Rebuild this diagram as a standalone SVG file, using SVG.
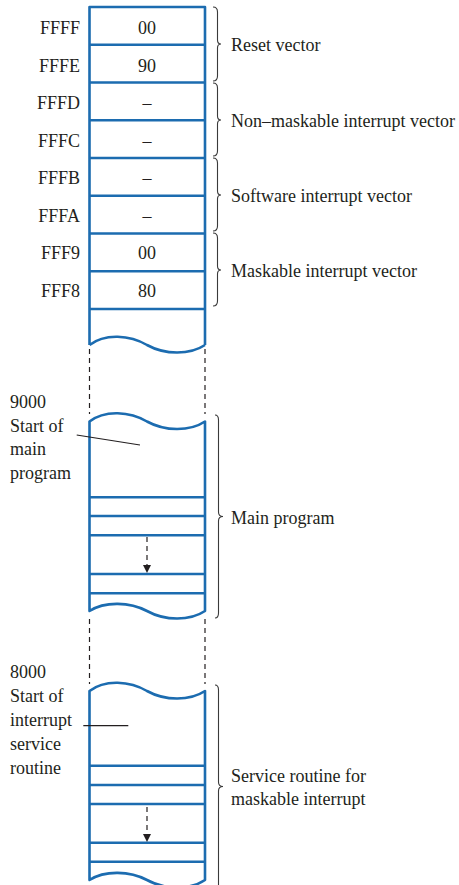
<svg xmlns="http://www.w3.org/2000/svg" width="459" height="885" viewBox="0 0 459 885">
<defs>
<style>
text{font-family:"Liberation Serif","Times New Roman",serif;font-size:18px;fill:#231f20}
.addr{text-anchor:end}
.val{text-anchor:middle}
.mem{fill:none;stroke:#1c6cb0;stroke-width:2.6;stroke-linejoin:round}
.brace{fill:none;stroke:#3a3a3a;stroke-width:1.1}
.dash{fill:none;stroke:#231f20;stroke-width:1.2;stroke-dasharray:5 4}
.lead{fill:none;stroke:#231f20;stroke-width:1.2}
</style>
<marker id="ah" viewBox="0 0 10 10" refX="10" refY="5" markerWidth="8" markerHeight="8" markerUnits="userSpaceOnUse" orient="auto">
<path d="M0,0 L10,5 L0,10 Z" fill="#231f20"/>
</marker>
</defs>
<rect width="459" height="885" fill="#fff"/>

<g id="vector-table">
<path class="mem" d="M89.5,345 L89.5,7 L205,7 L205,345 M89.5,44.75 H205 M89.5,82.5 H205 M89.5,120.25 H205 M89.5,158 H205 M89.5,195.75 H205 M89.5,233.5 H205 M89.5,271.25 H205 M89.5,309 H205 M89.5,345 C105,333 130,335 147,345 C165,355 190,355 205,345"/>
<text class="addr" x="80" y="34">FFFF</text>
<text class="addr" x="80" y="72">FFFE</text>
<text class="addr" x="80" y="109">FFFD</text>
<text class="addr" x="80" y="147">FFFC</text>
<text class="addr" x="80" y="184">FFFB</text>
<text class="addr" x="80" y="222">FFFA</text>
<text class="addr" x="80" y="259">FFF9</text>
<text class="addr" x="80" y="297">FFF8</text>
<text class="val" x="147" y="34">00</text>
<text class="val" x="147" y="72">90</text>
<text class="val" x="147" y="109">–</text>
<text class="val" x="147" y="147">–</text>
<text class="val" x="147" y="184">–</text>
<text class="val" x="147" y="222">–</text>
<text class="val" x="147" y="259">00</text>
<text class="val" x="147" y="297">80</text>
</g>

<g id="reset-vector">
<path class="brace" d="M213,7 Q217.5,7 217.5,12 L217.5,40 Q217.5,44 221,44 Q217.5,44 217.5,48 L217.5,76 Q217.5,81 213,81"/>
<text x="231" y="51">Reset vector</text>
</g>
<g id="nmi-vector">
<path class="brace" d="M213,83 Q217.5,83 217.5,88 L217.5,116 Q217.5,120 221,120 Q217.5,120 217.5,124 L217.5,151 Q217.5,156 213,156"/>
<text x="231" y="127">Non–maskable interrupt vector</text>
</g>
<g id="swi-vector">
<path class="brace" d="M213,158 Q217.5,158 217.5,163 L217.5,191 Q217.5,195 221,195 Q217.5,195 217.5,199 L217.5,226 Q217.5,231 213,231"/>
<text x="231" y="202">Software interrupt vector</text>
</g>
<g id="irq-vector">
<path class="brace" d="M213,233 Q217.5,233 217.5,238 L217.5,266 Q217.5,270 221,270 Q217.5,270 217.5,274 L217.5,301 Q217.5,306 213,306"/>
<text x="231" y="277">Maskable interrupt vector</text>
</g>

<g id="main-program">
<path class="mem" d="M89.5,421.5 C105,409.5 130,411.5 147,421.5 C165,431.5 190,431.5 205,421.5 L205,611 C190,621 165,621 147,611 C130,602 105,601 89.5,611 Z M89.5,497.3 H205 M89.5,516 H205 M89.5,535.3 H205 M89.5,574 H205 M89.5,593.3 H205"/>
<text x="10" y="408">9000</text>
<text x="10" y="431.5">Start of</text>
<text x="10" y="455">main</text>
<text x="10" y="479">program</text>
<path class="brace" d="M215,415 Q218.5,415 218.5,420 L218.5,512 Q218.5,516.5 223,516.5 Q218.5,516.5 218.5,521 L218.5,613 Q218.5,618 215,618"/>
<text x="231" y="524">Main program</text>
</g>

<g id="service-routine">
<path class="mem" d="M89.5,691 C105,679 130,681 147,691 C165,701 190,701 205,691 L205,880 C190,890 165,890 147,880 C130,871 105,870 89.5,880 Z M89.5,765.7 H205 M89.5,785 H205 M89.5,804 H205 M89.5,842.7 H205 M89.5,861.7 H205"/>
<text x="10" y="678">8000</text>
<text x="10" y="701.5">Start of</text>
<text x="10" y="726">interrupt</text>
<text x="10" y="750">service</text>
<text x="10" y="774">routine</text>
<path class="brace" d="M215,685 Q218.5,685 218.5,690 L218.5,782 Q218.5,786.5 223,786.5 Q218.5,786.5 218.5,791 L218.5,885"/>
<text x="231" y="782">Service routine for</text>
<text x="231" y="805">maskable interrupt</text>
</g>

<g id="connectors">
<path class="dash" d="M89.5,349 V414 M205,349 V414"/>
<path class="dash" d="M89.5,619 V684 M205,619 V684"/>
<path class="lead" d="M76.7,435 L140,445"/>
<path class="lead" d="M83.3,725.7 H128.3"/>
<path class="dash" d="M147,537 V573" stroke-dasharray="5 3.5" marker-end="url(#ah)"/>
<path class="dash" d="M147,807 V842" stroke-dasharray="5 3.5" marker-end="url(#ah)"/>
</g>
</svg>
